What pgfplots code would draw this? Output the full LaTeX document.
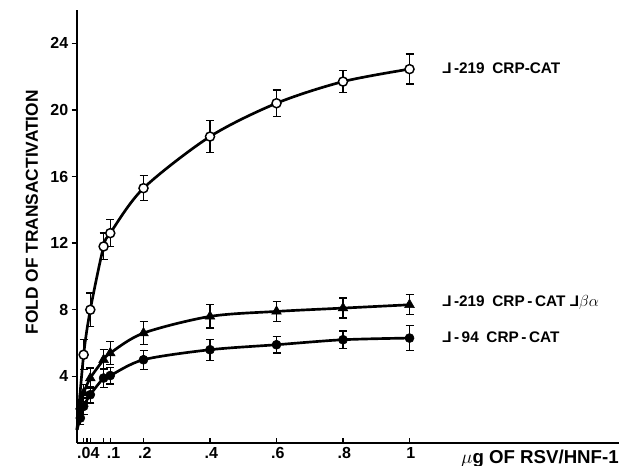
\documentclass[border=0pt]{standalone}
\usepackage{fontspec}
\setmainfont{Liberation Sans}
\usepackage{graphicx}
\usepackage{pgfplots}
\pgfplotsset{compat=1.18}

% dose (ug), fold, error
\pgfplotstableread{
x y e
0 0.8 0
0.02 5.3 0.9
0.04 8.0 1.0
0.08 11.8 0.8
0.1 12.6 0.8
0.2 15.3 0.75
0.4 18.4 0.95
0.6 20.4 0.8
0.8 21.7 0.65
1 22.45 0.9
}\opencirc
\pgfplotstableread{
x y e
0 0.8 0
0.01 2.2 0.4
0.02 3.0 0.5
0.04 3.9 0.6
0.08 5.0 0.6
0.1 5.4 0.7
0.2 6.6 0.7
0.4 7.6 0.7
0.6 7.9 0.6
0.8 8.1 0.6
1 8.3 0.6
}\tri
\pgfplotstableread{
x y e
0 0.8 0
0.01 1.5 0.4
0.02 2.2 0.5
0.04 2.9 0.5
0.08 3.9 0.55
0.1 4.05 0.5
0.2 5.0 0.57
0.4 5.6 0.63
0.6 5.9 0.5
0.8 6.2 0.52
1 6.3 0.75
}\fillcirc

\newcommand\del{\reflectbox{L}}

\begin{document}
\begin{tikzpicture}
\begin{axis}[
    scale only axis,
    width=406.5pt, height=324.75pt,
    xmin=0, xmax=1.63, ymin=0, ymax=26,
    axis x line=bottom, axis y line=left,
    axis line style={line width=1.6pt, -},
    xtick={0.02,0.03,0.04,0.08,0.1,0.2,0.4,0.6,0.8,1},
    xticklabels={,,{.04\kern5pt},,{\kern3pt.1},.2,.4,.6,.8,1},
    ytick={4,8,12,16,20,24},
    tick align=inside,
    major tick length=4pt,
    tick style={line width=1pt, black},
    ytick style={xshift=-4pt},
    /pgf/number format/assume math mode=true,
    ticklabel style={font=\bfseries\fontsize{12}{13}\selectfont},
    yticklabel style={xshift=-3pt},
    xticklabel style={xshift=1pt},
    clip=false,
    every axis plot/.append style={black},
]
\coordinate (O) at (rel axis cs:0,0);

% curves
\addplot[smooth, tension=0.5, line width=2pt] table[x=x,y=y] {\opencirc};
\addplot[smooth, tension=0.5, line width=2pt] table[x=x,y=y] {\tri};
\addplot[smooth, tension=0.5, line width=2pt] table[x=x,y=y] {\fillcirc};

% points with error bars
\addplot[only marks, mark=*, mark size=3.4pt, mark options={fill=white, draw=black, line width=1.1pt},
    skip coords between index={0}{1},
    error bars/.cd, y dir=both, y explicit,
    error bar style={line width=1pt},
    error mark options={rotate=90, mark size=3pt, line width=1pt}]
    table[x=x,y=y,y error=e] {\opencirc};
\addplot[only marks, mark=triangle*, mark size=4.2pt, mark options={fill=black},
    skip coords between index={0}{1},
    error bars/.cd, y dir=both, y explicit,
    error bar style={line width=1pt},
    error mark options={rotate=90, mark size=3pt, line width=1pt}]
    table[x=x,y=y,y error=e] {\tri};
\addplot[only marks, mark=*, mark size=3.4pt, mark options={fill=black},
    skip coords between index={0}{1},
    error bars/.cd, y dir=both, y explicit,
    error bar style={line width=1pt},
    error mark options={rotate=90, mark size=3pt, line width=1pt}]
    table[x=x,y=y,y error=e] {\fillcirc};

% labels
\node[anchor=west, font=\bfseries\fontsize{11.5}{12}\selectfont] at (axis cs:1.084,22.5) {\del\,-219\enspace CRP-CAT};
\node[anchor=west, font=\bfseries\fontsize{11.5}{12}\selectfont] at (axis cs:1.084,8.46) {\del\,-219\enspace CRP\,-\,CAT \del$\beta\alpha$};
\node[anchor=west, font=\bfseries\fontsize{11.5}{12}\selectfont] at (axis cs:1.084,6.36) {\del\,-\,94\enspace CRP\,-\,CAT};
\node[anchor=north east, font=\bfseries\fontsize{14}{15}\selectfont, inner sep=0pt] at ([yshift=-5pt]rel axis cs:1,0) {$\mu$g OF RSV/HNF-1};
\node[rotate=90, font=\bfseries\fontsize{13}{14}\selectfont] at ([xshift=-33.75pt]rel axis cs:0,0.533) {FOLD OF TRANSACTIVATION};
\end{axis}
\pgfresetboundingbox
\path (O) ++(-57.75pt,-17.25pt) rectangle ++(464.25pt,349.5pt);
\end{tikzpicture}
\end{document}
